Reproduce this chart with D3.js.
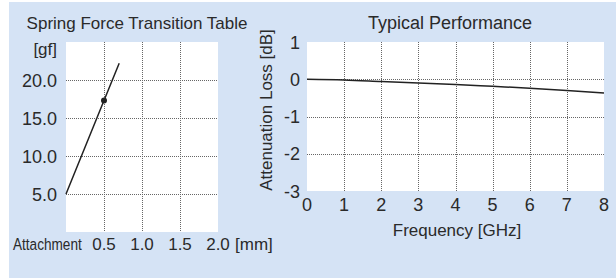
<!DOCTYPE html>
<html>
<head>
<meta charset="utf-8">
<script src="https://cdn.jsdelivr.net/npm/d3@7"></script>
<style>
    body { margin: 0; background: #fff; }
    svg { display: block; font-family: "Liberation Sans", Arial, sans-serif; }
    .grid line { stroke: #666; stroke-width: 1; stroke-dasharray: 1,1; shape-rendering: crispEdges; }
    text { fill: #2a2a2a; }
</style>
</head>
<body>
<div class="container"></div>
<script>
"use strict";

var width = 616;
var height = 278;

// Spring force chart
var springX = [0, 0.5, 0.7];
var springY = [5, 17.3, 22.2];
var springPointX = 0.5;
var springPointY = 17.3;
var springXTicks = [0.5, 1.0, 1.5, 2.0];
var springYTicks = [5, 10, 15, 20];

// Typical performance chart
var freqX = [0, 1, 2, 3, 4, 5, 6, 7, 8];
var lossY = [0, -0.02, -0.06, -0.10, -0.14, -0.19, -0.24, -0.30, -0.37];
var freqTicks = [0, 1, 2, 3, 4, 5, 6, 7, 8];
var lossTicks = [1, 0, -1, -2, -3];

var svg = d3.select(".container").append("svg")
    .attr("width", width)
    .attr("height", height);

svg.append("rect")
    .attr("x", 9).attr("y", 2)
    .attr("width", width - 9).attr("height", height - 2)
    .attr("fill", "#d5e3f5");

// ---- left panel ----
var x1 = d3.scaleLinear().domain([0, 2]).range([66, 218]);
var y1 = d3.scaleLinear().domain([0, 25]).range([232, 42]);

svg.append("rect")
    .attr("x", x1(0)).attr("y", y1(25))
    .attr("width", x1(2) - x1(0)).attr("height", y1(0) - y1(25))
    .attr("fill", "#fff");

var grid1 = svg.append("g").attr("class", "grid");
grid1.selectAll(".v")
    .data([0.5, 1.0, 1.5])
    .enter().append("line")
    .attr("x1", function(d) { return Math.round(x1(d)) + 0.5; })
    .attr("x2", function(d) { return Math.round(x1(d)) + 0.5; })
    .attr("y1", y1(25)).attr("y2", y1(0));
grid1.selectAll(".h")
    .data(springYTicks)
    .enter().append("line")
    .attr("x1", x1(0)).attr("x2", x1(2))
    .attr("y1", function(d) { return Math.round(y1(d)) + 0.5; })
    .attr("y2", function(d) { return Math.round(y1(d)) + 0.5; });

var line1 = d3.line()
    .x(function(d, i) { return x1(springX[i]); })
    .y(function(d) { return y1(d); });

svg.append("path")
    .datum(springY)
    .attr("d", line1)
    .attr("fill", "none")
    .attr("stroke", "#222")
    .attr("stroke-width", 1.5);

svg.append("circle")
    .attr("cx", x1(springPointX))
    .attr("cy", y1(springPointY))
    .attr("r", 3)
    .attr("fill", "#222");

svg.append("text")
    .attr("x", 137).attr("y", 29)
    .attr("text-anchor", "middle")
    .style("font-size", "17px")
    .text("Spring Force Transition Table");

svg.append("text")
    .attr("x", 57).attr("y", 55)
    .attr("text-anchor", "end")
    .style("font-size", "17px")
    .text("[gf]");

svg.selectAll(".ytick1")
    .data(springYTicks)
    .enter().append("text")
    .attr("x", 57)
    .attr("y", function(d) { return y1(d) + 6.5; })
    .attr("text-anchor", "end")
    .style("font-size", "18px")
    .text(function(d) { return d3.format(".1f")(d); });

// the reference squeezes this label horizontally
svg.append("text")
    .attr("transform", "translate(13,250) scale(0.8,1)")
    .style("font-size", "17px")
    .text("Attachment");

svg.selectAll(".xtick1")
    .data(springXTicks)
    .enter().append("text")
    .attr("x", function(d) { return x1(d); })
    .attr("y", 250)
    .attr("text-anchor", "middle")
    .style("font-size", "17px")
    .text(function(d) { return d3.format(".1f")(d); });

svg.append("text")
    .attr("x", 235).attr("y", 250)
    .style("font-size", "17px")
    .text("[mm]");

// ---- right panel ----
var x2 = d3.scaleLinear().domain([0, 8]).range([307, 604]);
var y2 = d3.scaleLinear().domain([-3, 1]).range([191, 42]);

svg.append("rect")
    .attr("x", x2(0)).attr("y", y2(1))
    .attr("width", x2(8) - x2(0)).attr("height", y2(-3) - y2(1))
    .attr("fill", "#fff");

var grid2 = svg.append("g").attr("class", "grid");
grid2.selectAll(".v")
    .data(freqTicks.slice(1, -1))
    .enter().append("line")
    .attr("x1", function(d) { return Math.round(x2(d)) + 0.5; })
    .attr("x2", function(d) { return Math.round(x2(d)) + 0.5; })
    .attr("y1", y2(1)).attr("y2", y2(-3));
grid2.selectAll(".h")
    .data(lossTicks.slice(1, -1))
    .enter().append("line")
    .attr("x1", x2(0)).attr("x2", x2(8))
    .attr("y1", function(d) { return Math.round(y2(d)) + 0.5; })
    .attr("y2", function(d) { return Math.round(y2(d)) + 0.5; });

var line2 = d3.line()
    .x(function(d, i) { return x2(freqX[i]); })
    .y(function(d) { return y2(d); })
    .curve(d3.curveMonotoneX);

svg.append("path")
    .datum(lossY)
    .attr("d", line2)
    .attr("fill", "none")
    .attr("stroke", "#222")
    .attr("stroke-width", 1.5);

svg.append("text")
    .attr("x", 450).attr("y", 29)
    .attr("text-anchor", "middle")
    .style("font-size", "18px")
    .text("Typical Performance");

svg.selectAll(".ytick2")
    .data(lossTicks)
    .enter().append("text")
    .attr("x", 300)
    .attr("y", function(d) { return y2(d) + 6.5; })
    .attr("text-anchor", "end")
    .style("font-size", "18px")
    .text(function(d) { return d; });

svg.selectAll(".xtick2")
    .data(freqTicks)
    .enter().append("text")
    .attr("x", function(d) { return x2(d); })
    .attr("y", 211)
    .attr("text-anchor", "middle")
    .style("font-size", "18px")
    .text(function(d) { return d; });

svg.append("text")
    .attr("x", 457).attr("y", 236)
    .attr("text-anchor", "middle")
    .style("font-size", "17px")
    .text("Frequency [GHz]");

svg.append("text")
    .attr("transform", "translate(272,110) rotate(-90)")
    .attr("text-anchor", "middle")
    .style("font-size", "17px")
    .text("Attenuation Loss [dB]");
</script>
</body>
</html>
